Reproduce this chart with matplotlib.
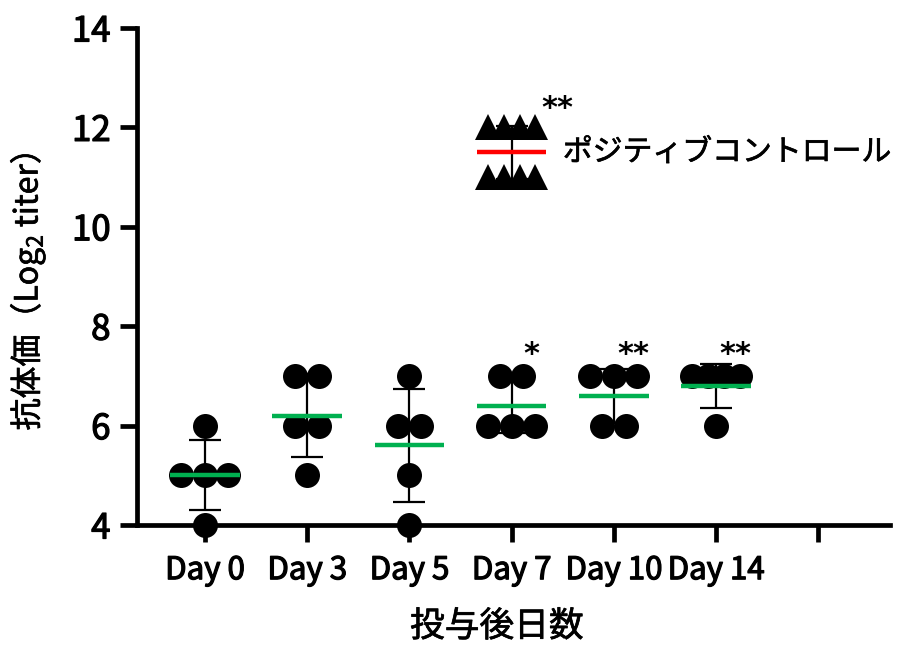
import numpy as np
import matplotlib
matplotlib.use("Agg")
import matplotlib.pyplot as plt
import matplotlib.patheffects as pe

plt.rcParams['font.family'] = ['Noto Sans CJK JP', 'DejaVu Sans']
plt.rcParams['mathtext.fontset'] = 'custom'
plt.rcParams['mathtext.rm'] = 'Noto Sans CJK JP'

# antibody titers (log2) per group, 5 animals each
groups = ['Day 0', 'Day 3', 'Day 5', 'Day 7', 'Day 10', 'Day 14']
titers = [
    [6, 5, 5, 5, 4],
    [7, 7, 6, 6, 5],
    [7, 6, 6, 5, 4],
    [7, 7, 6, 6, 6],
    [7, 7, 7, 6, 6],
    [7, 7, 7, 7, 6],
]
stars = ['', '', '', '*', '**', '**']

pos_label = 'ポジティブコントロール'
pos_titers = [12, 12, 12, 12, 11, 11, 11, 11]
pos_star = '**'
pos_x = 3  # drawn alongside the Day 7 column

green = '#00b050'
red = '#ff0000'

# slightly heavier than the regular face
heavy = [pe.withStroke(linewidth=0.9, foreground='black')]
semi = [pe.withStroke(linewidth=0.5, foreground='black')]


def spread(values, x0):
    """Scatter layout: spread identical values side by side."""
    xs, ys = [], []
    for v in sorted(set(values), reverse=True):
        n = values.count(v)
        step = 0.23 if n <= 3 else 0.155
        for k in range(n):
            xs.append(x0 + (k - (n - 1) / 2) * step)
            ys.append(v)
    return xs, ys


def draw_group(ax, x0, values, marker, lcolor, ms):
    vals = np.array(values, dtype=float)
    m, sd = vals.mean(), vals.std(ddof=1)
    ax.errorbar([x0], [m], yerr=[sd], fmt='none', ecolor='black',
                elinewidth=1.6, capsize=11.5, capthick=1.6, zorder=2)
    xs, ys = spread(list(values), x0)
    ax.plot(xs, ys, linestyle='none', marker=marker, ms=ms, color='black',
            markeredgewidth=0, zorder=3, clip_on=False)
    ax.plot([x0 - 0.34, x0 + 0.34], [m, m], color=lcolor, lw=3.2,
            solid_capstyle='butt', zorder=4)
    return vals.max()


fig = plt.figure(figsize=(9.04, 6.46), dpi=100)
ax = fig.add_axes([0.1515, 0.1873, 0.833, 0.7694])

star_font = dict(family='DejaVu Sans', fontsize=22, fontweight='bold',
                 ha='center', va='center')
for i, vals in enumerate(titers):
    top = draw_group(ax, i, vals, 'o', green, 18)
    if stars[i]:
        ax.text(i + 0.19, top + 0.44, stars[i], **star_font)

top = draw_group(ax, pos_x, pos_titers, '^', red, 19)
ax.text(pos_x + 0.45, top + 0.38, pos_star, **star_font)
ax.text(pos_x + 0.5, np.mean(pos_titers), pos_label, fontsize=21.5,
        ha='left', va='center', path_effects=semi)

ax.set_xlim(-0.665, 6.70)
ax.set_ylim(4, 14)
ax.set_xticks(range(len(groups) + 1))
ax.set_xticklabels(groups + [''])
ax.set_yticks([4, 6, 8, 10, 12, 14])

for side in ['top', 'right']:
    ax.spines[side].set_visible(False)
for side in ['left', 'bottom']:
    ax.spines[side].set_linewidth(3.4)
ax.tick_params(axis='both', width=3.4, length=12)
ax.tick_params(axis='x', labelsize=22.5, pad=9)
ax.tick_params(axis='y', labelsize=25, pad=7)
for lab in ax.get_xticklabels() + ax.get_yticklabels():
    lab.set_path_effects(heavy)

ax.set_xlabel('投与後日数', fontsize=25, path_effects=semi)
ax.xaxis.set_label_coords(0.478, -0.17)
ax.set_ylabel('抗体価（Log$_2$ titer）', fontsize=23, path_effects=semi)
ax.yaxis.set_label_coords(-0.12, 0.47)

fig.savefig('out.png', dpi=100)
